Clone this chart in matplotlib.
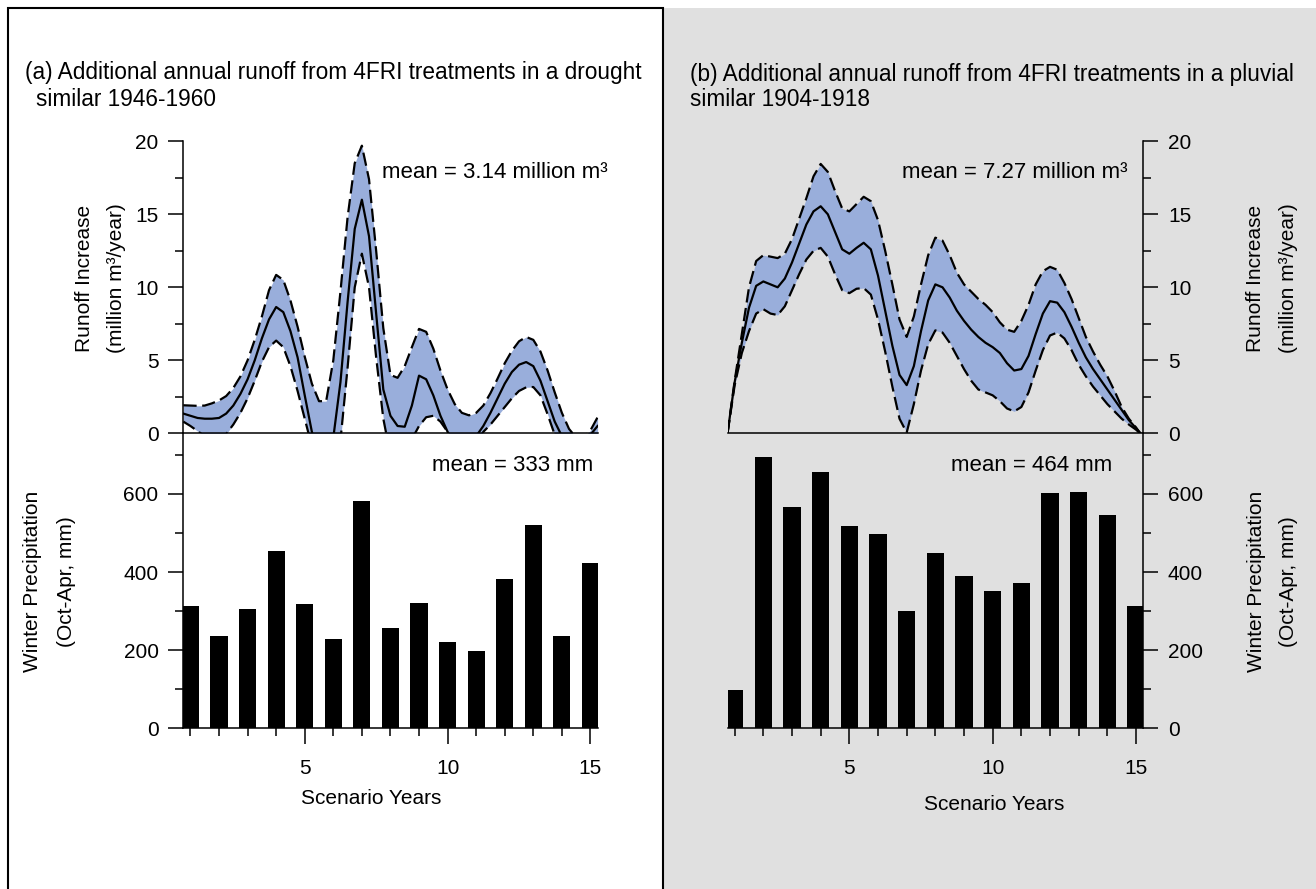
import numpy as np
import matplotlib
matplotlib.use("Agg")
import matplotlib.pyplot as plt
from matplotlib.patches import Rectangle
from matplotlib.ticker import MultipleLocator

plt.rcParams["font.family"] = ["Liberation Sans", "DejaVu Sans"]

W, H = 1316, 889

# scenario years (bars) and the grid on which the curves were read
years = list(range(1, 16))
t = np.arange(0.75, 15.26, 0.25)

# (a) drought 1946-1960: runoff increase, million m3/year
drought_upper = [1.92, 1.9, 1.88, 1.9, 2.05, 2.25, 2.55, 3.1, 3.9, 5.0, 6.4, 8.0, 9.8, 10.85,
                 10.5, 9.1, 7.3, 5.25, 3.4, 2.2, 2.2, 5.0, 9.7, 14.8, 18.5, 19.7, 17.4, 12.5,
                 7.2, 4.0, 3.8, 4.6, 5.9, 7.15, 6.95, 5.8, 4.3, 3.0, 2.0, 1.4, 1.23, 1.4, 1.9,
                 2.75, 3.75, 4.8, 5.65, 6.3, 6.6, 6.4, 5.6, 4.3, 2.8, 1.4, 0.3, -0.3, -0.3,
                 0.2, 1.1]
drought_mean = [1.35, 1.2, 1.05, 1.0, 1.0, 1.05, 1.35, 1.9, 2.7, 3.7, 5.0, 6.5, 7.8, 8.65,
                8.3, 7.0, 5.2, 2.6, 0.1, -1.5, -1.8, -0.3, 3.5, 9.0, 14.0, 16.0, 13.5, 8.2,
                3.0, 1.2, 0.5, 0.45, 1.9, 3.95, 3.7, 2.6, 1.2, 0.1, -0.7, -1.0, -0.8, -0.2,
                0.5, 1.4, 2.4, 3.4, 4.2, 4.7, 4.88, 4.6, 3.6, 2.2, 0.8, -0.2, -1.0, -1.2,
                -0.8, -0.1, 0.5]
drought_lower = [0.8, 0.5, 0.15, -0.2, -0.4, -0.3, -0.05, 0.6, 1.4, 2.4, 3.6, 4.9, 5.9, 6.35,
                 5.9, 4.6, 2.9, 1.0, -0.9, -2.5, -3.0, -2.2, -0.5, 4.5, 10.0, 12.3, 10.0, 5.2,
                 1.0, -1.5, -2.0, -1.5, -0.4, 0.5, 1.1, 1.2, 0.8, 0.1, -0.7, -1.5, -1.8, -0.8,
                 0.1, 0.6, 1.2, 1.8, 2.4, 2.9, 3.15, 3.17, 2.6, 1.3, -0.1, -1.0, -1.6, -2.0,
                 -2.0, -1.8, -1.3]
drought_precip = [313, 237, 306, 453, 318, 228, 583, 256, 320, 220, 199, 383, 521, 235, 422]

# (b) pluvial 1904-1918
pluvial_upper = [0.0, 3.6, 6.8, 10.0, 11.8, 12.2, 12.1, 12.0, 12.3, 13.3, 14.7, 16.1, 17.6, 18.45,
                 17.9, 16.6, 15.4, 15.2, 15.7, 16.2, 15.9, 14.6, 12.5, 10.2, 7.8, 6.6, 8.0, 10.2,
                 12.2, 13.4, 13.2, 12.2, 11.0, 10.2, 9.7, 9.2, 8.8, 8.3, 7.6, 7.1, 6.95, 7.7,
                 8.8, 10.2, 11.1, 11.4, 11.2, 10.3, 9.2, 7.9, 6.6, 5.6, 4.7, 3.9, 2.9, 1.8,
                 1.0, 0.4, -0.3]
pluvial_mean = [0.0, 3.5, 6.2, 8.6, 10.1, 10.4, 10.2, 10.0, 10.6, 11.7, 13.0, 14.3, 15.2, 15.55,
                15.0, 13.8, 12.6, 12.3, 12.7, 13.05, 12.6, 10.8, 8.4, 6.0, 4.0, 3.3, 4.6, 7.0,
                9.1, 10.2, 10.0, 9.3, 8.4, 7.7, 7.1, 6.6, 6.2, 5.9, 5.5, 4.8, 4.3, 4.4, 5.3,
                6.8, 8.2, 9.05, 8.95, 8.3, 7.3, 6.2, 5.2, 4.4, 3.7, 3.0, 2.3, 1.6, 0.9, 0.35,
                -0.2]
pluvial_lower = [0.0, 3.3, 5.5, 7.0, 8.2, 8.5, 8.2, 8.1, 8.7, 9.8, 10.9, 11.9, 12.5, 12.7,
                 12.1, 10.9, 9.8, 9.6, 9.9, 9.95, 9.5, 7.8, 5.6, 3.2, 1.0, 0.05, 2.0, 4.3,
                 6.1, 7.05, 6.9, 6.2, 5.3, 4.4, 3.6, 3.0, 2.8, 2.6, 2.2, 1.7, 1.5, 1.8, 2.8,
                 4.3, 5.7, 6.7, 6.9, 6.5, 5.7, 4.7, 3.9, 3.2, 2.6, 2.0, 1.5, 1.0, 0.6, 0.25,
                 -0.2]
pluvial_precip = [98, 694, 566, 655, 518, 498, 300, 449, 389, 351, 372, 601, 606, 545, 314]

BAND = "#99aedb"
GREY = "#e0e0e0"
FS = 15


def fx(x):
    return x / W


def fy(y):
    return 1 - y / H


fig = plt.figure(figsize=(W / 100, H / 100), dpi=100)
fig.patch.set_facecolor("white")

# panel backgrounds, kept behind the axes
fig.patches.append(Rectangle((fx(663), -0.02), 1.0, fy(8) + 0.02, transform=fig.transFigure,
                             facecolor=GREY, edgecolor="none", zorder=-2))
fig.patches.append(Rectangle((fx(8), -0.02), fx(663) - fx(8), fy(8) + 0.02,
                             transform=fig.transFigure, facecolor="none",
                             edgecolor="black", linewidth=1.5, zorder=-1))


def make_axes(left, right, top, bottom):
    return fig.add_axes([fx(left), fy(bottom), fx(right) - fx(left), (bottom - top) / H])


def style(ax, side):
    ax.set_facecolor("none")
    for s in ["top", "left", "right"]:
        ax.spines[s].set_visible(s == side)
    for s in ax.spines.values():
        s.set_linewidth(1.1)
    if side == "right":
        ax.yaxis.tick_right()
    ax.tick_params(axis="y", which="major", length=10.8, width=1.1, labelsize=FS, pad=7,
                   direction="out")
    ax.tick_params(axis="y", which="minor", length=5.8, width=1.1, direction="out")
    ax.set_xlim(0.75, 15.25)


panels = [
    ("left", 183.3, 597.6, drought_upper, drought_mean, drought_lower, drought_precip,
     "mean = 3.14 million m³", 608, "mean = 333 mm", 593),
    ("right", 727.5, 1143.2, pluvial_upper, pluvial_mean, pluvial_lower, pluvial_precip,
     "mean = 7.27 million m³", 1127, "mean = 464 mm", 1112),
]

for side, x0, x1, up, mn, lo, pr, mtop, mtop_x, mbot, mbot_x in panels:
    ax1 = make_axes(x0, x1, 141.3, 433.3)
    ax2 = make_axes(x0, x1, 433.3, 728.3)

    style(ax1, side)
    ax1.fill_between(t, lo, up, color=BAND, linewidth=0)
    ax1.plot(t, up, color="black", lw=1.6, dashes=(6, 2.5), solid_joinstyle="round")
    ax1.plot(t, lo, color="black", lw=1.6, dashes=(6, 2.5), solid_joinstyle="round")
    ax1.plot(t, mn, color="black", lw=1.6, solid_joinstyle="round")
    ax1.set_ylim(0, 20)
    ax1.yaxis.set_major_locator(MultipleLocator(5))
    ax1.yaxis.set_minor_locator(MultipleLocator(2.5))
    ax1.tick_params(axis="x", which="both", bottom=False, labelbottom=False)

    style(ax2, side)
    ax2.bar(years, pr, width=0.6, color="black")
    ax2.set_ylim(0, 755)
    ax2.yaxis.set_major_locator(MultipleLocator(200))
    ax2.yaxis.set_minor_locator(MultipleLocator(100))
    ax2.xaxis.set_major_locator(MultipleLocator(5))
    ax2.xaxis.set_minor_locator(MultipleLocator(1))
    ax2.tick_params(axis="x", which="major", length=11.3, width=1.1, labelsize=FS, pad=11)
    ax2.tick_params(axis="x", which="minor", length=5.5, width=1.1)

    fig.text(fx(mtop_x), fy(178.3), mtop, ha="right", va="baseline", fontsize=16)
    fig.text(fx(mbot_x), fy(471), mbot, ha="right", va="baseline", fontsize=16)

# titles
fig.text(fx(25), fy(79.5), "(a) Additional annual runoff from 4FRI treatments in a drought",
         fontsize=16.3, va="baseline")
fig.text(fx(36), fy(106), "similar 1946-1960", fontsize=16.3, va="baseline")
fig.text(fx(690), fy(80.5), "(b) Additional annual runoff from 4FRI treatments in a pluvial",
         fontsize=16.3, va="baseline")
fig.text(fx(690), fy(106.5), "similar 1904-1918", fontsize=16.3, va="baseline")

# axis labels
ylabels = [
    ("Runoff Increase", 84.5, 278), ("(million m³/year)", 117, 278),
    ("Winter Precipitation", 32.6, 581.6), ("(Oct-Apr, mm)", 66.5, 581.6),
    ("Runoff Increase", 1255.5, 278), ("(million m³/year)", 1288, 278),
    ("Winter Precipitation", 1256, 581.6), ("(Oct-Apr, mm)", 1288, 581.6),
]
for txt, x, y in ylabels:
    fig.text(fx(x), fy(y), txt, rotation=90, ha="center", va="center", fontsize=FS)

fig.text(fx(371.5), fy(799), "Scenario Years", ha="center", va="center", fontsize=FS)
fig.text(fx(994), fy(804.5), "Scenario Years", ha="center", va="center", fontsize=FS)

fig.savefig("out.png", dpi=100)
